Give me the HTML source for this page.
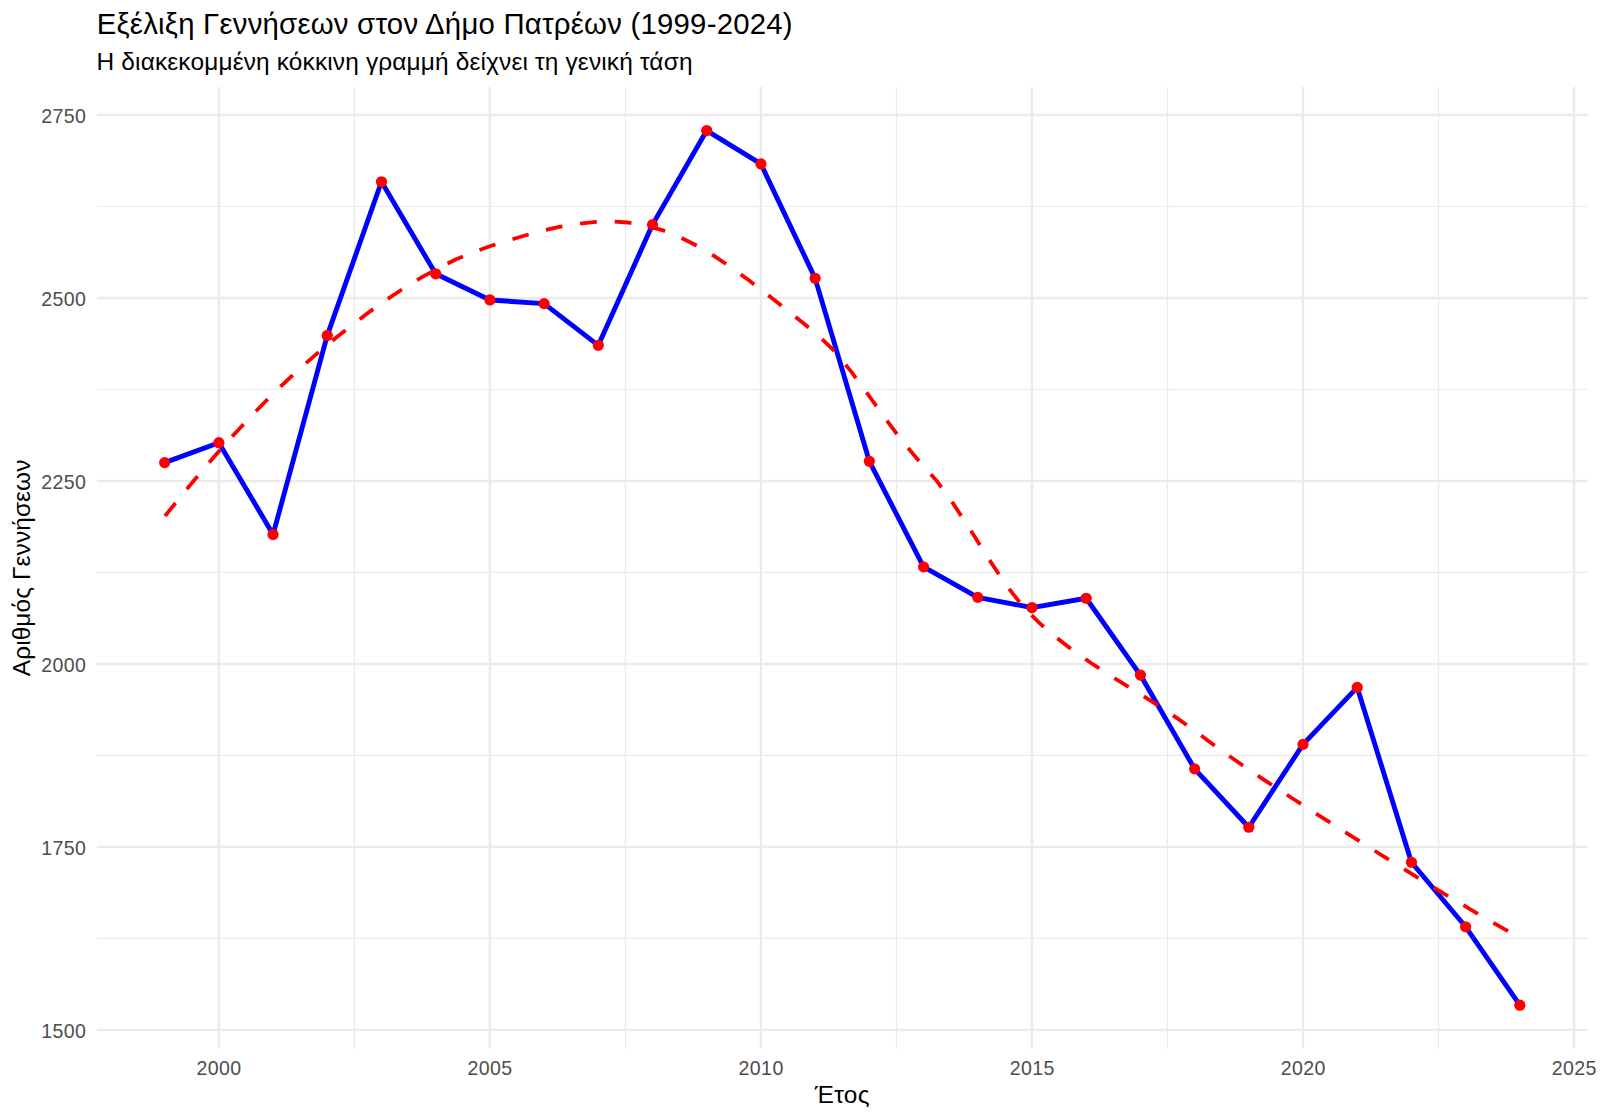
<!DOCTYPE html><html><head><meta charset="utf-8"><style>html,body{margin:0;padding:0;background:#fff;width:1600px;height:1120px;overflow:hidden}svg{display:block}text{font-family:"Liberation Sans",sans-serif}</style></head><body>
<svg width="1600" height="1120" viewBox="0 0 1600 1120">
<rect width="1600" height="1120" fill="#fff"/>
<path d="M96.90 938.41H1587.60M96.90 755.43H1587.60M96.90 572.45H1587.60M96.90 389.47H1587.60M96.90 206.49H1587.60M354.38 87.00V1048.70M625.42 87.00V1048.70M896.46 87.00V1048.70M1167.49 87.00V1048.70M1438.53 87.00V1048.70" stroke="#EBEBEB" stroke-width="1.19" fill="none"/>
<path d="M96.90 1029.90H1587.60M96.90 846.92H1587.60M96.90 663.94H1587.60M96.90 480.96H1587.60M96.90 297.98H1587.60M96.90 115.00H1587.60M218.87 87.00V1048.70M489.90 87.00V1048.70M760.94 87.00V1048.70M1031.98 87.00V1048.70M1303.01 87.00V1048.70M1574.05 87.00V1048.70" stroke="#EBEBEB" stroke-width="2.37" fill="none"/>
<polyline points="164.66,462.59 218.87,442.72 273.07,534.43 327.28,335.42 381.49,181.79 435.70,273.83 489.90,299.96 544.11,303.62 598.32,345.37 652.52,224.61 706.73,130.55 760.94,163.93 815.15,278.33 869.35,461.31 923.56,566.85 977.77,597.34 1031.98,607.55 1086.18,598.25 1140.39,675.07 1194.60,768.86 1248.80,827.23 1303.01,744.41 1357.22,687.40 1411.43,862.29 1465.63,926.77 1519.84,1005.20" stroke="#0000FF" stroke-width="4.9" fill="none" stroke-linejoin="round" stroke-linecap="butt"/>
<circle cx="164.66" cy="462.59" r="5.6" fill="#FF0000"/>
<circle cx="218.87" cy="442.72" r="5.6" fill="#FF0000"/>
<circle cx="273.07" cy="534.43" r="5.6" fill="#FF0000"/>
<circle cx="327.28" cy="335.42" r="5.6" fill="#FF0000"/>
<circle cx="381.49" cy="181.79" r="5.6" fill="#FF0000"/>
<circle cx="435.70" cy="273.83" r="5.6" fill="#FF0000"/>
<circle cx="489.90" cy="299.96" r="5.6" fill="#FF0000"/>
<circle cx="544.11" cy="303.62" r="5.6" fill="#FF0000"/>
<circle cx="598.32" cy="345.37" r="5.6" fill="#FF0000"/>
<circle cx="652.52" cy="224.61" r="5.6" fill="#FF0000"/>
<circle cx="706.73" cy="130.55" r="5.6" fill="#FF0000"/>
<circle cx="760.94" cy="163.93" r="5.6" fill="#FF0000"/>
<circle cx="815.15" cy="278.33" r="5.6" fill="#FF0000"/>
<circle cx="869.35" cy="461.31" r="5.6" fill="#FF0000"/>
<circle cx="923.56" cy="566.85" r="5.6" fill="#FF0000"/>
<circle cx="977.77" cy="597.34" r="5.6" fill="#FF0000"/>
<circle cx="1031.98" cy="607.55" r="5.6" fill="#FF0000"/>
<circle cx="1086.18" cy="598.25" r="5.6" fill="#FF0000"/>
<circle cx="1140.39" cy="675.07" r="5.6" fill="#FF0000"/>
<circle cx="1194.60" cy="768.86" r="5.6" fill="#FF0000"/>
<circle cx="1248.80" cy="827.23" r="5.6" fill="#FF0000"/>
<circle cx="1303.01" cy="744.41" r="5.6" fill="#FF0000"/>
<circle cx="1357.22" cy="687.40" r="5.6" fill="#FF0000"/>
<circle cx="1411.43" cy="862.29" r="5.6" fill="#FF0000"/>
<circle cx="1465.63" cy="926.77" r="5.6" fill="#FF0000"/>
<circle cx="1519.84" cy="1005.20" r="5.6" fill="#FF0000"/>
<polyline points="164.66,516.58 181.81,495.06 198.97,474.49 216.12,454.58 233.28,435.26 250.43,416.83 267.58,399.27 284.74,382.59 301.89,366.75 319.05,351.76 336.20,337.56 353.36,323.99 370.51,311.08 387.66,298.93 404.82,287.59 421.97,277.16 439.13,267.71 456.28,259.31 473.43,252.06 490.59,246.02 507.74,240.63 524.90,235.51 542.05,230.87 559.21,226.94 576.36,223.92 593.51,222.03 610.67,221.48 627.82,222.49 644.98,225.27 662.13,230.05 679.29,236.88 696.44,245.52 713.59,255.70 730.75,267.14 747.90,279.58 765.06,292.73 782.21,306.33 799.36,320.10 816.52,333.79 833.67,350.42 850.83,371.15 867.98,394.30 885.14,418.19 902.29,441.15 919.44,461.49 936.60,480.71 953.75,504.42 970.91,530.85 988.06,557.96 1005.21,583.67 1022.37,605.91 1039.52,623.12 1056.68,637.80 1073.83,650.98 1090.99,662.99 1108.14,674.20 1125.29,684.93 1142.45,695.56 1159.60,706.41 1176.76,717.85 1193.91,730.21 1211.07,742.98 1228.22,755.30 1245.37,767.22 1262.53,778.82 1279.68,790.14 1296.84,801.27 1313.99,812.25 1331.14,823.15 1348.30,834.03 1365.45,844.93 1382.61,855.77 1399.76,866.50 1416.92,877.11 1434.07,887.61 1451.22,897.97 1468.38,908.19 1485.53,918.26 1502.69,928.17 1519.84,937.91" stroke="#FF0000" stroke-width="3.8" fill="none" stroke-dasharray="16.85 17.87" stroke-dashoffset="-0.55" stroke-linejoin="round" stroke-linecap="butt"/>
<text x="86.3" y="1037.60" font-size="19.56" letter-spacing="0.4" fill="#4D4D4D" text-anchor="end">1500</text>
<text x="86.3" y="854.62" font-size="19.56" letter-spacing="0.4" fill="#4D4D4D" text-anchor="end">1750</text>
<text x="86.3" y="671.64" font-size="19.56" letter-spacing="0.4" fill="#4D4D4D" text-anchor="end">2000</text>
<text x="86.3" y="488.66" font-size="19.56" letter-spacing="0.4" fill="#4D4D4D" text-anchor="end">2250</text>
<text x="86.3" y="305.68" font-size="19.56" letter-spacing="0.4" fill="#4D4D4D" text-anchor="end">2500</text>
<text x="86.3" y="122.70" font-size="19.56" letter-spacing="0.4" fill="#4D4D4D" text-anchor="end">2750</text>
<text x="219.07" y="1074.6" font-size="19.56" letter-spacing="0.4" fill="#4D4D4D" text-anchor="middle">2000</text>
<text x="490.10" y="1074.6" font-size="19.56" letter-spacing="0.4" fill="#4D4D4D" text-anchor="middle">2005</text>
<text x="761.14" y="1074.6" font-size="19.56" letter-spacing="0.4" fill="#4D4D4D" text-anchor="middle">2010</text>
<text x="1032.18" y="1074.6" font-size="19.56" letter-spacing="0.4" fill="#4D4D4D" text-anchor="middle">2015</text>
<text x="1303.21" y="1074.6" font-size="19.56" letter-spacing="0.4" fill="#4D4D4D" text-anchor="middle">2020</text>
<text x="1574.25" y="1074.6" font-size="19.56" letter-spacing="0.4" fill="#4D4D4D" text-anchor="middle">2025</text>
<text x="842.25" y="1102.8" font-size="24.44" letter-spacing="0.3" fill="#000" text-anchor="middle">Έτος</text>
<text transform="translate(30.2 567.85) rotate(-90)" x="0" y="0" font-size="24.44" letter-spacing="0.1" fill="#000" text-anchor="middle">Αριθμός Γεννήσεων</text>
<text x="96.7" y="33.8" font-size="29.33" letter-spacing="0.23" fill="#000">Εξέλιξη Γεννήσεων στον Δήμο Πατρέων (1999-2024)</text>
<text x="96.6" y="70.0" font-size="24.44" letter-spacing="0.15" fill="#000">Η διακεκομμένη κόκκινη γραμμή δείχνει τη γενική τάση</text>
</svg></body></html>
